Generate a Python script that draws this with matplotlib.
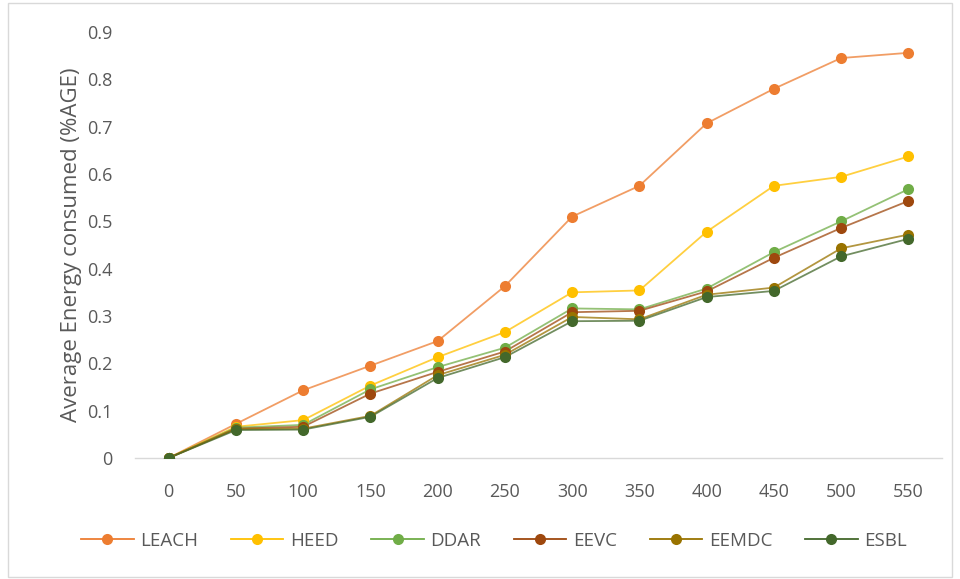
import matplotlib.pyplot as plt
from matplotlib.patches import Rectangle

# rounds on the x axis
rounds = [0, 50, 100, 150, 200, 250, 300, 350, 400, 450, 500, 550]

# average energy consumed per protocol
leach = [0, 0.072, 0.143, 0.195, 0.247, 0.363, 0.510, 0.575, 0.707, 0.780, 0.845, 0.856]
heed = [0, 0.066, 0.080, 0.153, 0.213, 0.266, 0.350, 0.354, 0.478, 0.575, 0.594, 0.637]
ddar = [0, 0.064, 0.070, 0.145, 0.192, 0.233, 0.316, 0.314, 0.358, 0.435, 0.500, 0.568]
eevc = [0, 0.062, 0.066, 0.136, 0.182, 0.225, 0.308, 0.311, 0.352, 0.423, 0.486, 0.543]
eemdc = [0, 0.061, 0.062, 0.089, 0.175, 0.218, 0.298, 0.293, 0.345, 0.360, 0.443, 0.472]
esbl = [0, 0.059, 0.060, 0.087, 0.169, 0.213, 0.289, 0.290, 0.340, 0.353, 0.426, 0.463]

names = ['LEACH', 'HEED', 'DDAR', 'EEVC', 'EEMDC', 'ESBL']
colors = ['#ED7D31', '#FFC000', '#70AD47', '#9E480E', '#997300', '#43682B']

text_color = '#595959'
plt.rcParams['font.family'] = ['Open Sans', 'DejaVu Sans']

fig = plt.figure(figsize=(9.6, 5.79), dpi=100)
ax = fig.add_axes([135 / 960, 121 / 579, 807 / 960, 426 / 579])

xs = list(range(len(rounds)))
for vals, name, c in zip([leach, heed, ddar, eevc, eemdc, esbl], names, colors):
    ax.plot(xs, vals, color=c, lw=1.3, alpha=0.75, zorder=2)
    ax.plot(xs, vals, linestyle='none', marker='o', markersize=8,
            color=c, markeredgewidth=0, zorder=3)
    # proxy artist for the legend
    ax.plot([], [], color=c, lw=1.3, marker='o', markersize=8,
            markeredgewidth=0, label=name)

ax.set_xlim(-0.5, len(rounds) - 0.5)
ax.set_ylim(0, 0.9)
ax.set_xticks(xs)
ax.set_xticklabels([str(r) for r in rounds])
ax.set_yticks([i / 10 for i in range(10)])
ax.set_yticklabels(['0'] + ['0.%d' % i for i in range(1, 10)])
ax.tick_params(length=0, labelsize=13, colors=text_color)
ax.tick_params(axis='y', pad=16)
ax.tick_params(axis='x', pad=18)

for side in ['top', 'right', 'left']:
    ax.spines[side].set_visible(False)
ax.spines['bottom'].set_color('#D9D9D9')
ax.spines['bottom'].set_linewidth(1)

ax.set_ylabel('Average Energy consumed (%AGE)', fontsize=16, color=text_color,
              labelpad=4)

fig.legend(loc='center', bbox_to_anchor=(494 / 960, 1 - 541 / 579), ncol=6,
           frameon=False, fontsize=13.5, handlelength=2.8, handletextpad=0.35,
           columnspacing=1.75, labelcolor=text_color)

# chart area frame
fig.patches.append(Rectangle((8 / 960, 2 / 579), 944 / 960, 574 / 579,
                             transform=fig.transFigure, fill=False,
                             edgecolor='#D9D9D9', lw=1))

fig.savefig('out.png', dpi=100)
